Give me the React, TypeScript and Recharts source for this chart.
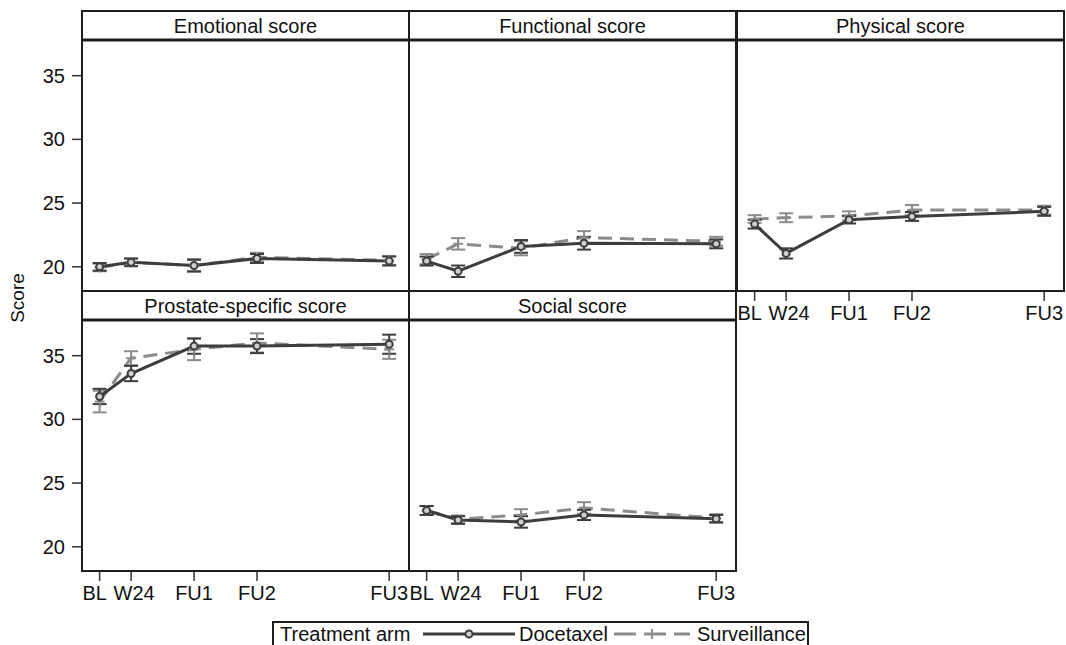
import { ErrorBar, Line, LineChart, XAxis, YAxis } from "recharts";

const visitLabels = ["BL", "W24", "FU1", "FU2", "FU3"];
const visitTimes = [0, 1, 3, 5, 9.2];
const scoreTicks = [20, 25, 30, 35];

// mean score per visit and half-width of its confidence interval
const emotionalDocetaxel = [20.0, 20.35, 20.1, 20.65, 20.45];
const emotionalDocetaxelCi = [0.3, 0.3, 0.45, 0.35, 0.35];
const emotionalSurveillance = [19.95, 20.35, 20.1, 20.75, 20.5];
const emotionalSurveillanceCi = [0.3, 0.3, 0.5, 0.35, 0.35];

const functionalDocetaxel = [20.45, 19.65, 21.6, 21.85, 21.8];
const functionalDocetaxelCi = [0.35, 0.45, 0.5, 0.5, 0.35];
const functionalSurveillance = [20.6, 21.8, 21.45, 22.3, 22.0];
const functionalSurveillanceCi = [0.4, 0.45, 0.55, 0.5, 0.35];

const physicalDocetaxel = [23.35, 21.05, 23.7, 23.95, 24.35];
const physicalDocetaxelCi = [0.35, 0.4, 0.3, 0.35, 0.35];
const physicalSurveillance = [23.75, 23.85, 24.0, 24.45, 24.45];
const physicalSurveillanceCi = [0.3, 0.35, 0.35, 0.4, 0.35];

const prostateDocetaxel = [31.8, 33.6, 35.75, 35.75, 35.9];
const prostateDocetaxelCi = [0.6, 0.6, 0.6, 0.55, 0.75];
const prostateSurveillance = [31.4, 34.8, 35.5, 36.0, 35.5];
const prostateSurveillanceCi = [0.85, 0.55, 0.85, 0.75, 0.75];

const socialDocetaxel = [22.85, 22.1, 21.95, 22.5, 22.2];
const socialDocetaxelCi = [0.35, 0.3, 0.45, 0.4, 0.3];
const socialSurveillance = [22.85, 22.15, 22.5, 23.05, 22.25];
const socialSurveillanceCi = [0.35, 0.3, 0.45, 0.45, 0.3];

const DOC = "#3d3d3d";
const SURV = "#8c8c8c";
const FRAME = "#1e1e1e";
const FONT = "'Liberation Sans', Arial, sans-serif";
const TEXT_SIZE = 20;

const colLeft = [82, 409, 737];
const colWidth = 327;
const titleTop = [11, 291];
const plotTop = [40, 320];
const plotHeight = 251;
const yAxisWidth = 82;
const xAxisHeight = 44;
const xDomain = [-0.56, 9.83];
const yDomain = [18.1, 37.8];

type PanelSpec = {
  title: string;
  col: number;
  row: number;
  doc: number[];
  docCi: number[];
  surv: number[];
  survCi: number[];
  showX: boolean;
  showY: boolean;
};

const panels: PanelSpec[] = [
  { title: "Emotional score", col: 0, row: 0, doc: emotionalDocetaxel, docCi: emotionalDocetaxelCi, surv: emotionalSurveillance, survCi: emotionalSurveillanceCi, showX: false, showY: true },
  { title: "Functional score", col: 1, row: 0, doc: functionalDocetaxel, docCi: functionalDocetaxelCi, surv: functionalSurveillance, survCi: functionalSurveillanceCi, showX: false, showY: false },
  { title: "Physical score", col: 2, row: 0, doc: physicalDocetaxel, docCi: physicalDocetaxelCi, surv: physicalSurveillance, survCi: physicalSurveillanceCi, showX: true, showY: false },
  { title: "Prostate-specific score", col: 0, row: 1, doc: prostateDocetaxel, docCi: prostateDocetaxelCi, surv: prostateSurveillance, survCi: prostateSurveillanceCi, showX: true, showY: true },
  { title: "Social score", col: 1, row: 1, doc: socialDocetaxel, docCi: socialDocetaxelCi, surv: socialSurveillance, survCi: socialSurveillanceCi, showX: true, showY: false }
];

function CircleDot(props: any) {
  const { cx, cy } = props;
  if (cx == null || cy == null) return null;
  return <circle cx={cx} cy={cy} r={3.5} fill="#cfcfcf" stroke={DOC} strokeWidth={2} />;
}

function PlusDot(props: any) {
  const { cx, cy } = props;
  if (cx == null || cy == null) return null;
  return (
    <g stroke={SURV} strokeWidth={2}>
      <line x1={cx - 5} y1={cy} x2={cx + 5} y2={cy} />
      <line x1={cx} y1={cy - 5} x2={cx} y2={cy + 5} />
    </g>
  );
}

// the two first labels sit close together, so push them slightly apart
function VisitTick(props: any) {
  const { x, y, payload } = props;
  const label = visitLabels[visitTimes.indexOf(payload.value)] ?? "";
  const shift = label === "BL" ? -5 : label === "W24" ? 3 : 0;
  return (
    <text x={x + shift} y={y + 17} textAnchor="middle" fontSize={TEXT_SIZE} fontFamily={FONT} fill="#111">
      {label}
    </text>
  );
}

function Panel({ spec }: { spec: PanelSpec }) {
  const rows = visitTimes.map((t, i) => ({
    t,
    doc: spec.doc[i],
    docCi: spec.docCi[i],
    surv: spec.surv[i],
    survCi: spec.survCi[i]
  }));
  const left = colLeft[spec.col] - (spec.showY ? yAxisWidth : 0);
  const width = colWidth + (spec.showY ? yAxisWidth : 0);
  const height = plotHeight + (spec.showX ? xAxisHeight : 0);

  return (
    <div style={{ position: "absolute", left, top: plotTop[spec.row], width, height }}>
      <LineChart width={width} height={height} data={rows} margin={{ top: 0, right: 0, bottom: 0, left: 0 }}>
        <XAxis
          type="number"
          dataKey="t"
          domain={xDomain}
          ticks={visitTimes}
          interval={0}
          allowDataOverflow
          hide={!spec.showX}
          height={xAxisHeight}
          axisLine={false}
          tickSize={10}
          tickMargin={2}
          tickLine={{ stroke: "#333", strokeWidth: 1.5 }}
          tick={<VisitTick />}
        />
        <YAxis
          type="number"
          domain={yDomain}
          ticks={scoreTicks}
          interval={0}
          allowDataOverflow
          hide={!spec.showY}
          width={yAxisWidth}
          axisLine={false}
          tickSize={10}
          tickMargin={7}
          tickLine={{ stroke: "#333", strokeWidth: 1.5 }}
          tick={{ fill: "#111", fontSize: TEXT_SIZE, fontFamily: FONT }}
        />
        <Line
          dataKey="surv"
          stroke={SURV}
          strokeWidth={3}
          strokeDasharray="14 8"
          dot={(p: any) => <PlusDot key={`s${p.index}`} {...p} />}
          activeDot={false}
          isAnimationActive={false}
        >
          <ErrorBar dataKey="survCi" direction="y" width={7} stroke={SURV} strokeWidth={2} />
        </Line>
        <Line
          dataKey="doc"
          stroke={DOC}
          strokeWidth={3}
          dot={(p: any) => <CircleDot key={`d${p.index}`} {...p} />}
          activeDot={false}
          isAnimationActive={false}
        >
          <ErrorBar dataKey="docCi" direction="y" width={7} stroke={DOC} strokeWidth={2} />
        </Line>
      </LineChart>
    </div>
  );
}

function Frames() {
  return (
    <svg width={1066} height={645} style={{ position: "absolute", left: 0, top: 0, pointerEvents: "none" }}>
      {panels.map((p) => {
        const x0 = colLeft[p.col];
        const y0 = titleTop[p.row];
        const yT = plotTop[p.row];
        const y1 = yT + plotHeight;
        return (
          <g key={p.title}>
            <rect x={x0} y={y0} width={colWidth} height={y1 - y0} fill="none" stroke={FRAME} strokeWidth={2} />
            <line x1={x0} y1={yT} x2={x0 + colWidth} y2={yT} stroke={FRAME} strokeWidth={3} />
            <text
              x={x0 + colWidth / 2}
              y={(y0 + yT) / 2 + 7}
              textAnchor="middle"
              fontSize={TEXT_SIZE}
              fontFamily={FONT}
              fill="#111"
            >
              {p.title}
            </text>
          </g>
        );
      })}
      <text
        x={0}
        y={0}
        transform="translate(24 298) rotate(-90)"
        textAnchor="middle"
        fontSize={19}
        fontFamily={FONT}
        fill="#111"
      >
        Score
      </text>
    </svg>
  );
}

function LegendBox() {
  const y = 634;
  return (
    <svg width={1066} height={645} style={{ position: "absolute", left: 0, top: 0, pointerEvents: "none" }}>
      <rect x={273} y={622} width={535} height={40} fill="#fff" stroke={FRAME} strokeWidth={2} />
      <text x={280} y={y + 7} fontSize={TEXT_SIZE} fontFamily={FONT} fill="#111">Treatment arm</text>
      <line x1={423} y1={y} x2={515} y2={y} stroke={DOC} strokeWidth={3} />
      <CircleDot cx={469} cy={y} />
      <text x={519} y={y + 7} fontSize={TEXT_SIZE} fontFamily={FONT} fill="#111">Docetaxel</text>
      <line x1={614} y1={y} x2={690} y2={y} stroke={SURV} strokeWidth={3} strokeDasharray="22 8" />
      <PlusDot cx={652} cy={y} />
      <text x={697} y={y + 7} fontSize={TEXT_SIZE} fontFamily={FONT} fill="#111">Surveillance</text>
    </svg>
  );
}

export default function App() {
  return (
    <div style={{ position: "absolute", left: 0, top: 0, width: 1066, height: 645, overflow: "hidden", background: "#fff" }}>
      {panels.map((p) => (
        <Panel key={p.title} spec={p} />
      ))}
      <Frames />
      <LegendBox />
    </div>
  );
}
